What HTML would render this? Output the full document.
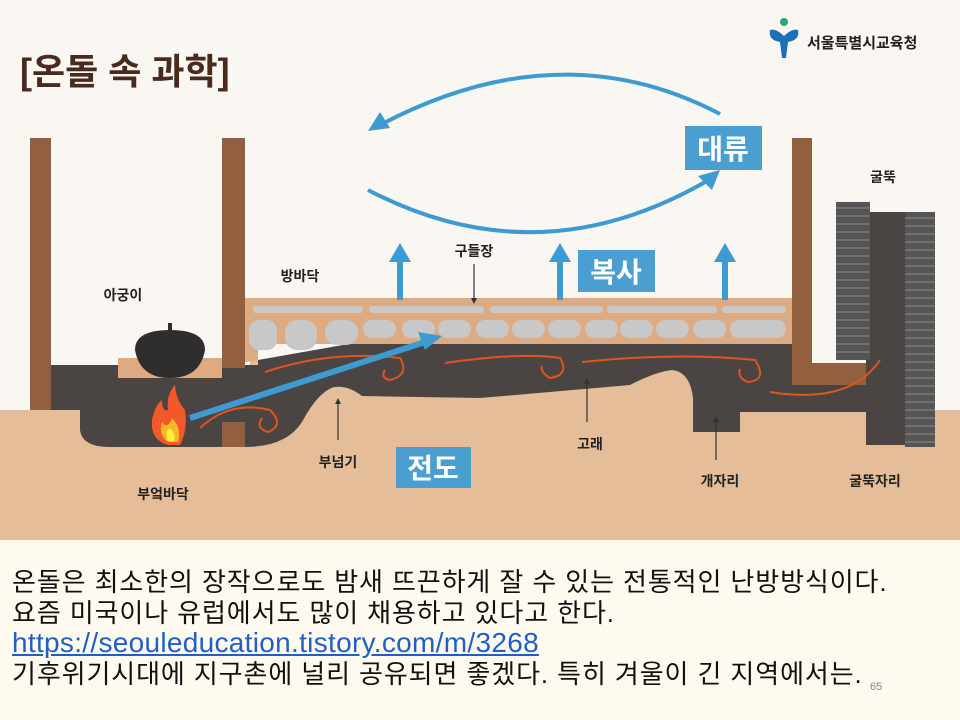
<!DOCTYPE html>
<html><head><meta charset="utf-8"><style>
body{margin:0;width:960px;height:720px;overflow:hidden;background:#fefaef;font-family:"Liberation Sans","Noto Sans CJK KR",sans-serif}
svg{position:absolute;left:0;top:0}
.t{position:absolute;left:12px;font-size:26px;color:#111;line-height:30px;white-space:nowrap;letter-spacing:0.9px}
</style></head><body>
<svg width="960" height="540" viewBox="0 0 960 540" font-family="Liberation Sans, Noto Sans CJK KR, sans-serif">
<rect width="960" height="540" fill="#faf6f1"/>
<rect y="410" width="960" height="130" fill="#e5bd99"/>
<rect x="250" y="360" width="542" height="52" fill="#e5bd99"/>
<rect x="0" y="396" width="30" height="14" fill="#faf6f1"/>
<!-- dark flue -->
<path d="M50,365 L258,365 L258,360 L360,342 L792,342 L792,385 L866,385 L866,360 L905,360 L905,445 L866,445 L866,412 L740,412 L740,432 L693,432 L693,398 Q690,372 672,370 Q655,372 630,385 L480,398 L362,396 Q348,385 334,387 Q318,392 302,422 Q286,447 245,447 L110,447 Q82,447 80,430 L80,410 L50,410 Z" fill="#4a4543"/>
<!-- floor layer -->
<rect x="245" y="298" width="547" height="46" fill="#deaa82"/>
<path d="M245,344 L258,344 L258,360 L245,362Z" fill="#deaa82"/>
<g fill="#c8c8c8">
<rect x="253" y="306" width="110" height="7" rx="3"/><rect x="369" y="306" width="115" height="7" rx="3"/><rect x="490" y="306" width="113" height="7" rx="3"/><rect x="607" y="306" width="110" height="7" rx="3"/><rect x="722" y="306" width="64" height="7" rx="3"/>
<rect x="249" y="320" width="28" height="30" rx="10"/><rect x="285" y="320" width="32" height="30" rx="12"/><rect x="325" y="320" width="33" height="25" rx="12"/><rect x="363" y="320" width="33" height="18" rx="9"/><rect x="402" y="320" width="33" height="18" rx="9"/><rect x="438" y="320" width="33" height="18" rx="9"/><rect x="476" y="320" width="33" height="18" rx="9"/><rect x="512" y="320" width="33" height="18" rx="9"/><rect x="548" y="320" width="33" height="18" rx="9"/><rect x="585" y="320" width="33" height="18" rx="9"/><rect x="620" y="320" width="33" height="18" rx="9"/><rect x="656" y="320" width="33" height="18" rx="9"/><rect x="693" y="320" width="33" height="18" rx="9"/><rect x="730" y="320" width="56" height="18" rx="9"/>
</g>
<!-- posts -->
<g fill="#93603f">
<rect x="30" y="138" width="21" height="272"/><rect x="222" y="138" width="23" height="230"/><rect x="222" y="422" width="23" height="25"/>
<path d="M792,138 L812,138 L812,363 L866,363 L866,385 L792,385Z"/>
</g>
<!-- pot -->
<rect x="118" y="358" width="104" height="20" fill="#deaa82"/>
<path d="M135,350 Q135,330 170,330 Q205,330 205,350 Q200,378 170,378 Q140,378 135,350Z" fill="#2f2d2d"/>
<rect x="168" y="323" width="4" height="8" fill="#2f2d2d"/>
<!-- fire -->
<path d="M168,445 Q150,440 152,420 Q155,405 162,400 Q162,412 168,410 Q166,395 175,385 Q176,400 185,410 Q188,430 180,445Z" fill="#f2582a"/>
<path d="M168,442 Q158,435 162,422 Q168,430 172,418 Q182,428 178,442Z" fill="#fbb52a"/>
<path d="M168,441 Q164,432 170,428 Q176,434 174,441Z" fill="#fff13a"/>
<!-- chimney -->
<rect x="866" y="212" width="40" height="150" fill="#4a4543"/>
<g fill="#555">
<rect x="836" y="202" width="34" height="158"/><rect x="905" y="212" width="30" height="235"/>
</g>
<g stroke="#7a7a7a" stroke-width="1.5">
<path d="M836,208H870M836,216H870M836,224H870M836,232H870M836,240H870M836,248H870M836,256H870M836,264H870M836,272H870M836,280H870M836,288H870M836,296H870M836,304H870M836,312H870M836,320H870M836,328H870M836,336H870M836,344H870M836,352H870"/>
<path d="M905,218H935M905,226H935M905,234H935M905,242H935M905,250H935M905,258H935M905,266H935M905,274H935M905,282H935M905,290H935M905,298H935M905,306H935M905,314H935M905,322H935M905,330H935M905,338H935M905,346H935M905,354H935M905,362H935M905,370H935M905,378H935M905,386H935M905,394H935M905,402H935M905,410H935M905,418H935M905,426H935M905,434H935M905,442H935"/>
</g>
<!-- orange swirls -->
<g fill="none" stroke="#e0541e" stroke-width="2">
<path d="M265,372 Q330,350 400,358 Q410,375 390,380 Q380,378 385,370"/>
<path d="M200,428 Q230,400 270,410 Q285,425 268,432 Q255,428 262,418"/>
<path d="M445,363 Q520,352 560,358 Q570,375 550,378 Q540,372 542,366"/>
<path d="M582,362 Q680,352 755,360 Q768,380 748,382 Q737,378 740,369"/>
<path d="M770,392 Q850,405 880,360"/>
</g>
<!-- conduction arrow -->
<line x1="190" y1="418" x2="425" y2="342" stroke="#3d9bd2" stroke-width="6"/>
<polygon points="442,336 418,332 425,350" fill="#3d9bd2"/>
<!-- convection -->
<path d="M720,114 Q560,30 380,125" fill="none" stroke="#3d9bd2" stroke-width="4"/>
<polygon points="368,131 380,112 390,128" fill="#3d9bd2"/>
<path d="M368,190 Q540,280 712,178" fill="none" stroke="#3d9bd2" stroke-width="4"/>
<polygon points="720,170 698,176 712,190" fill="#3d9bd2"/>
<!-- radiation arrows -->
<g fill="#3d9bd2">
<rect x="397" y="258" width="6" height="42"/><polygon points="389,262 400,243 411,262"/>
<rect x="557" y="258" width="6" height="42"/><polygon points="549,262 560,243 571,262"/>
<rect x="722" y="258" width="6" height="42"/><polygon points="714,262 725,243 736,262"/>
</g>
<rect x="685" y="126" width="77" height="44" fill="#4b9fd0"/>
<text x="723" y="159" text-anchor="middle" font-size="28" font-weight="bold" fill="#fff">대류</text>
<rect x="578" y="250" width="77" height="42" fill="#4b9fd0"/>
<text x="616" y="282" text-anchor="middle" font-size="28" font-weight="bold" fill="#fff">복사</text>
<rect x="396" y="447" width="75" height="41" fill="#4b9fd0"/>
<text x="433" y="478" text-anchor="middle" font-size="28" font-weight="bold" fill="#fff">전도</text>
<!-- pointer lines -->
<g stroke="#333" stroke-width="1.2">
<line x1="474" y1="264" x2="474" y2="300"/><line x1="338" y1="402" x2="338" y2="440"/><line x1="587" y1="382" x2="587" y2="422"/><line x1="716" y1="420" x2="716" y2="460"/>
</g>
<g fill="#333">
<polygon points="471,298 477,298 474,304"/><polygon points="335,404 341,404 338,398"/><polygon points="584,384 590,384 587,378"/><polygon points="713,422 719,422 716,416"/>
</g>
<!-- labels -->
<g font-size="14" font-weight="bold" fill="#222" text-anchor="middle">
<text x="123" y="300">아궁이</text><text x="300" y="281">방바닥</text><text x="474" y="256">구들장</text>
<text x="883" y="182">굴뚝</text><text x="338" y="467">부넘기</text><text x="163" y="499">부엌바닥</text>
<text x="590" y="449">고래</text><text x="720" y="486">개자리</text><text x="875" y="486">굴뚝자리</text>
</g>
<text x="20" y="84" font-size="36" font-weight="bold" fill="#4a2a1f">[온돌 속 과학]</text>
<!-- logo -->
<g fill="#1c6fb8">
<circle cx="784" cy="22" r="4" fill="#2aa57a"/>
<path d="M770,30 Q776,28 784,36 Q792,28 798,30 Q800,40 788,42 L786,58 L782,58 L780,42 Q768,40 770,30Z"/>
</g>
<text x="807" y="48" font-size="15" font-weight="bold" fill="#222">서울특별시교육청</text>
</svg>
<div class="t" style="top:567px">온돌은 최소한의 장작으로도 밤새 뜨끈하게 잘 수 있는 전통적인 난방방식이다.</div>
<div class="t" style="top:598px">요즘 미국이나 유럽에서도 많이 채용하고 있다고 한다.</div>
<div class="t" style="top:628px;color:#1f5fc6;text-decoration:underline;font-size:28px;letter-spacing:0.3px">https://seouleducation.tistory.com/m/3268</div>
<div class="t" style="top:659px">기후위기시대에 지구촌에 널리 공유되면 좋겠다. 특히 겨울이 긴 지역에서는.</div>
<div style="position:absolute;left:870px;top:681px;font-size:11px;color:#888">65</div>
</body></html>
